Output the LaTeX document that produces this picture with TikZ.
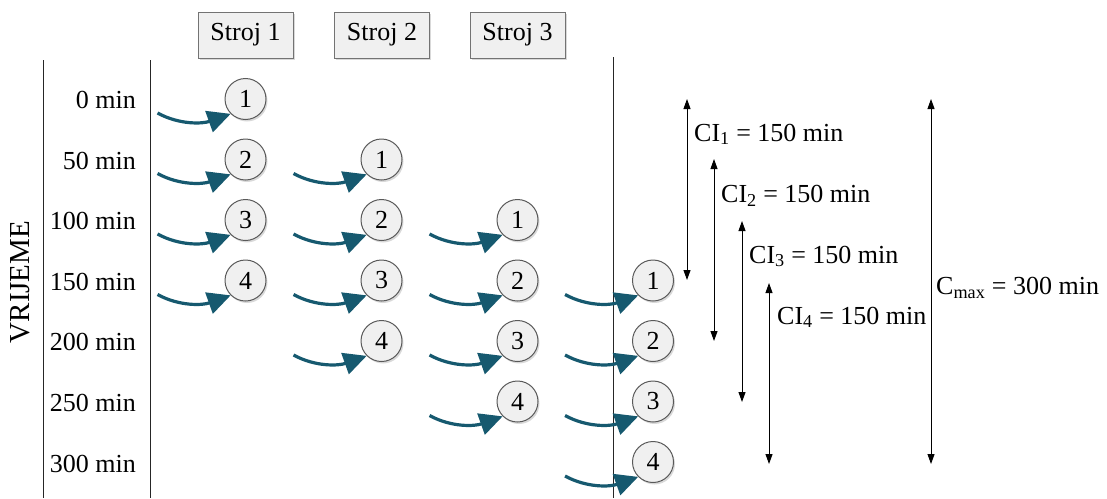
\documentclass[tikz,border=0pt]{standalone}
\usepackage{fontspec}
\setmainfont{Liberation Serif}
\usetikzlibrary{arrows.meta,shadows}
\definecolor{flow}{RGB}{22,89,111}
\begin{document}
\begin{tikzpicture}[x=1pt,y=-1pt,
  every node/.style={font=\fontsize{26}{30}\selectfont},
  softshadow/.style={drop shadow={shadow xshift=1.5pt,shadow yshift=-2pt,opacity=0.3}},
  machine/.style={draw=black!55, fill=black!6, line width=0.9pt, minimum width=95pt, minimum height=46pt, inner sep=0pt, softshadow},
  job/.style={circle, draw=black!65, fill=black!6, line width=1pt, minimum size=41pt, inner sep=0pt, softshadow},
  feed/.style={draw=flow, line width=3.2pt, -{Triangle[length=23pt,width=22pt]}},
  span/.style={draw=black, line width=0.9pt, {Triangle[length=10pt,width=7pt]}-{Triangle[length=10pt,width=7pt]}},
  axis/.style={draw=black!85, line width=0.9pt},
  lbl/.style={inner sep=0pt, anchor=base west},
]
\useasboundingbox (0,0) rectangle (1107,498);

% vertical lines
\coordinate (l1t) at (43,60);  \coordinate (l1b) at (43,498);
\coordinate (l2t) at (150,60); \coordinate (l2b) at (150,498);
\coordinate (l3t) at (613,57); \coordinate (l3b) at (613,498);
\draw[axis] (l1t) -- (l1b);
\draw[axis] (l2t) -- (l2b);
\draw[axis] (l3t) -- (l3b);

% machines
\node[machine] (m1) at (245.5,35) {Stroj 1};
\node[machine] (m2) at (382,35) {Stroj 2};
\node[machine] (m3) at (517.5,35) {Stroj 3};

% axis title
\node[rotate=90, font=\fontsize{29}{32}\selectfont, inner sep=0pt] (vr) at (20,282) {VRIJEME};

% time labels
\foreach \k/\t in {0/0,1/50,2/100,3/150,4/200,5/250,6/300} {
  \node[inner sep=0pt, anchor=base east] (t\k) at (136,{108.5+60.6*\k}) {\t\ min};
}

% jobs and feed arrows
\foreach \j/\cx in {0/245.5,1/381.5,2/517.5,3/653} {
  \foreach \n in {1,...,4} {
    \pgfmathsetmacro\cy{99+60.5*(\j+\n-1)}
    \node[job] (c\j-\n) at (\cx,\cy) {\n};
    \coordinate (s\j-\n) at (\cx-88,\cy+14);
    \draw[feed] (s\j-\n) .. controls +(22,12) and +(-28,10) .. (c\j-\n.south west);
  }
}

% span arrows
\coordinate (a1t) at (687,99);  \coordinate (a1b) at (687,280);
\coordinate (a2t) at (714,159); \coordinate (a2b) at (714,341);
\coordinate (a3t) at (742,221); \coordinate (a3b) at (742,402);
\coordinate (a4t) at (769,283); \coordinate (a4b) at (769,464);
\coordinate (amt) at (931,99);  \coordinate (amb) at (931,464);
\draw[span] (a1t) -- (a1b);
\draw[span] (a2t) -- (a2b);
\draw[span] (a3t) -- (a3b);
\draw[span] (a4t) -- (a4b);
\draw[span] (amt) -- (amb);

\node[lbl] (ci1) at (694,141) {CI\textsubscript{1} = 150 min};
\node[lbl] (ci2) at (721,202.5) {CI\textsubscript{2} = 150 min};
\node[lbl] (ci3) at (749,263) {CI\textsubscript{3} = 150 min};
\node[lbl] (ci4) at (777,324) {CI\textsubscript{4} = 150 min};
\node[lbl] (cmax) at (936,294.5) {C\textsubscript{max} = 300 min};
\end{tikzpicture}
\end{document}
